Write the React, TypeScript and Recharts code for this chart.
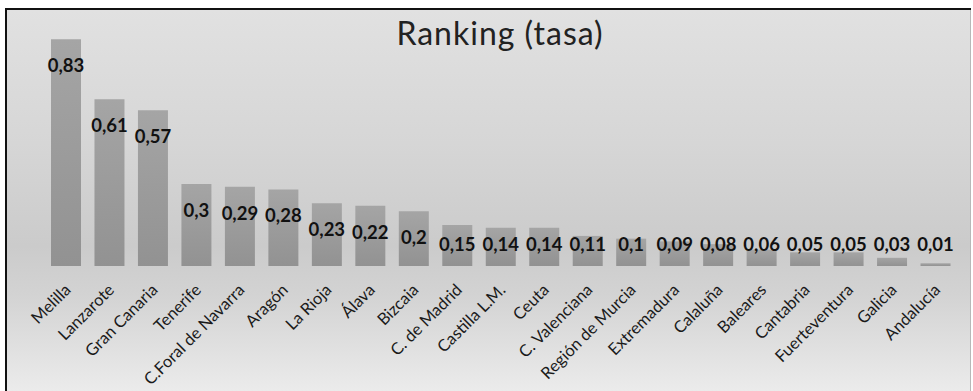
import React from "react";
import { BarChart, Bar, XAxis, YAxis, LabelList } from "recharts";

const categories = [
  "Melilla", "Lanzarote", "Gran Canaria", "Tenerife", "C.Foral de Navarra", "Aragón",
  "La Rioja", "Álava", "Bizcaia", "C. de Madrid", "Castilla L.M.", "Ceuta",
  "C. Valenciana", "Región de Murcia", "Extremadura", "Calaluña", "Baleares",
  "Cantabria", "Fuerteventura", "Galicia", "Andalucía",
];
const values = [
  0.83, 0.61, 0.57, 0.3, 0.29, 0.28, 0.23, 0.22, 0.2, 0.15, 0.14, 0.14,
  0.11, 0.1, 0.09, 0.08, 0.06, 0.05, 0.05, 0.03, 0.01,
];
const title = "Ranking (tasa)";

const data = categories.map((c, i) => ({ name: c, tasa: values[i] }));

const FONT = "Lato, 'Open Sans', sans-serif";

const Tick = (props: any) => {
  const { x, y, payload } = props;
  const tx = x + 6;
  const ty = y + 25;
  return (
    <text
      x={tx}
      y={ty}
      transform={`rotate(-45, ${tx}, ${ty})`}
      textAnchor="end"
      fontSize={16.5}
      fontFamily={FONT}
      fill="#1a1a1a"
    >
      {payload.value}
    </text>
  );
};

const ValueLabel = (props: any) => {
  const { x, y, width, height, value } = props;
  const base = y + height;
  const ly = Math.min(y + 33, base - 15);
  return (
    <text
      x={x + width / 2}
      y={ly}
      textAnchor="middle"
      fontSize={18.5}
      fontWeight={700}
      fontFamily={FONT}
      fill="#111"
    >
      {String(value).replace(".", ",")}
    </text>
  );
};

export default function App() {
  return (
    <div style={{ position: "absolute", left: 0, top: 0, width: 973, height: 391, background: "#fff", overflow: "hidden" }}>
      <div
        style={{
          position: "absolute",
          left: 5,
          top: 8,
          width: 966,
          height: 383,
          borderTop: "2px solid #111",
          borderLeft: "2px solid #111",
          boxSizing: "border-box",
        }}
      />
      <div
        style={{
          position: "absolute",
          left: 7,
          top: 10,
          width: 964,
          height: 381,
          background: "linear-gradient(to bottom, #e1e1e1 0%, #d6d6d6 35%, #cbcbcb 62%, #d3d3d3 75%, #ebebeb 100%)",
          borderRight: "1px solid #b8b8b8",
          boxSizing: "border-box",
        }}
      >
        <svg width={964} height={381} style={{ position: "absolute", left: 0, top: 0 }}>
          <text x={493} y={35} textAnchor="middle" fontSize={32} letterSpacing={1} fontFamily={FONT} fill="#222">
            {title}
          </text>
        </svg>
        <div style={{ position: "absolute", left: 0, top: 0 }}>
          <BarChart
            width={964}
            height={381}
            data={data}
            margin={{ top: 10, right: 14, left: 37, bottom: 0 }}
            barSize={30}
          >
            <defs>
              <linearGradient id="barGrad" x1="0" y1="0" x2="0" y2="1">
                <stop offset="0%" stopColor="#a5a5a5" />
                <stop offset="100%" stopColor="#929292" />
              </linearGradient>
            </defs>
            <XAxis
              dataKey="name"
              interval={0}
              axisLine={false}
              tickLine={false}
              tickSize={0}
              tickMargin={0}
              height={125}
              tick={<Tick />}
            />
            <YAxis hide domain={[0, 0.9]} />
            <Bar dataKey="tasa" fill="url(#barGrad)" isAnimationActive={false}>
              <LabelList dataKey="tasa" content={<ValueLabel />} />
            </Bar>
          </BarChart>
        </div>
      </div>
    </div>
  );
}
